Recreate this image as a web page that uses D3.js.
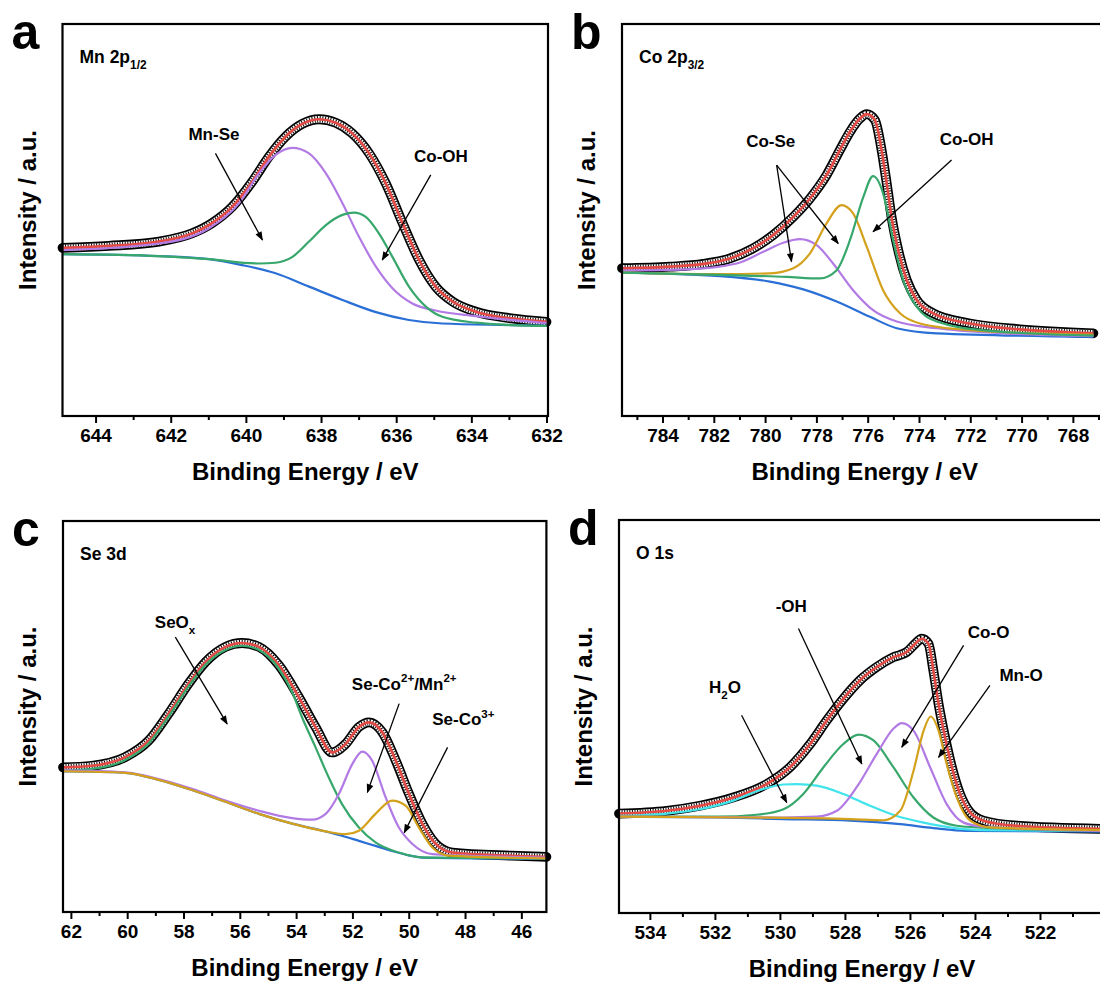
<!DOCTYPE html>
<html>
<head>
<meta charset="utf-8">
<script src="https://cdn.jsdelivr.net/npm/d3@7"></script>
<style>
  body { margin: 0; background: #fff; }
  svg text { font-family: "Liberation Sans", Arial, Helvetica, sans-serif; font-weight: bold; fill: #000; }
</style>
</head>
<body>
<svg id="fig" width="1100" height="988"></svg>
<script>
// values: [binding energy (eV), intensity (a.u., 0-100 of the frame)]

// (a) Mn 2p1/2
const aEnvelope = [[644.88,42.9],[643.65,43.4],[642.31,44.5],[641.43,46.6],[640.9,49.2],[640.36,53.4],[639.83,59.8],[639.39,66.1],[638.94,71.3],[638.5,74.5],[638.05,75.7],[637.61,74.8],[637.17,72.1],[636.72,67.0],[636.28,59.4],[635.83,49.2],[635.39,39.8],[634.95,33.0],[634.5,29.2],[633.88,26.6],[632.94,24.9],[632.0,24.0]];
const aMnSe = [[644.88,42.3],[642.31,44.0],[640.98,47.9],[640.18,54.3],[639.65,61.9],[639.21,66.6],[638.76,68.4],[638.32,67.0],[637.87,61.9],[637.43,54.3],[636.99,45.7],[636.54,38.1],[636.1,32.6],[635.57,28.7],[634.95,26.9],[633.88,25.5],[632.94,24.5],[632.0,23.7]];
const aCoOH = [[644.88,41.3],[642.31,40.8],[640.98,40.0],[639.65,38.9],[639.21,39.1],[638.76,40.6],[638.32,44.5],[637.87,48.7],[637.43,51.3],[637.12,51.9],[636.81,50.8],[636.46,46.6],[636.1,40.6],[635.66,33.0],[635.21,27.9],[634.77,25.3],[633.88,23.8],[632.94,23.2],[632.0,23.0]];
const aBackground = [[644.88,41.3],[642.31,40.8],[640.98,40.0],[640.1,38.5],[639.21,36.4],[638.32,33.0],[637.43,29.6],[636.54,26.5],[635.66,24.5],[634.77,23.6],[632.94,23.2],[632.0,23.0]];
const aTicks = [644, 642, 640, 638, 636, 634, 632];

// (b) Co 2p3/2
const bEnvelope = [[785.58,37.7],[783.71,38.1],[782.41,38.8],[781.37,40.2],[780.46,42.8],[779.68,46.2],[778.9,50.8],[778.25,55.5],[777.6,61.5],[777.08,67.9],[776.69,72.5],[776.3,75.9],[776.04,77.0],[775.72,75.5],[775.46,67.9],[775.26,59.4],[775.07,50.8],[774.81,42.3],[774.48,34.7],[774.09,29.6],[773.45,26.2],[772.02,23.6],[770.07,22.1],[767.2,21.1]];
const bCoSe1 = [[785.58,37.1],[783.06,37.4],[781.11,38.9],[780.07,41.9],[779.29,44.2],[778.64,45.1],[777.99,43.6],[777.35,38.9],[776.57,32.1],[775.79,27.0],[774.87,24.1],[773.31,22.4],[770.72,21.1],[767.2,20.4]];
const bCoSe2 = [[785.58,36.6],[781.76,36.2],[779.81,36.4],[778.9,37.7],[778.25,41.5],[777.6,49.2],[777.02,53.8],[776.57,51.7],[776.04,43.2],[775.4,32.1],[774.74,26.2],[773.96,23.6],[772.02,21.9],[767.2,20.7]];
const bCoOH = [[785.58,36.6],[781.76,36.0],[779.16,35.5],[777.86,35.1],[777.21,37.2],[776.69,44.9],[776.17,55.9],[775.79,61.2],[775.4,56.8],[775.01,44.9],[774.62,34.7],[774.09,27.9],[773.31,24.1],[771.37,21.8],[767.2,20.5]];
const bBackground = [[785.58,36.6],[781.76,35.7],[779.81,34.3],[778.51,32.3],[777.21,29.2],[775.91,25.3],[774.87,22.4],[773.31,21.1],[767.2,20.2]];
const bTicks = [784, 782, 780, 778, 776, 774, 772, 770, 768];

// (c) Se 3d
const cEnvelope = [[62.28,37.0],[61.26,37.4],[60.07,39.6],[59.24,43.8],[58.53,50.7],[57.82,58.4],[57.22,63.9],[56.51,67.8],[55.92,68.8],[55.32,67.8],[54.61,63.1],[53.9,54.9],[53.31,47.3],[52.72,40.8],[52.24,43.0],[51.77,47.3],[51.41,48.5],[50.94,46.0],[50.46,38.7],[49.99,30.2],[49.51,22.5],[49.04,17.4],[48.45,15.2],[46.36,14.4],[45.11,14.1]];
const cSeOx = [[62.28,36.2],[61.26,36.6],[60.07,38.9],[59.24,43.1],[58.53,50.0],[57.82,57.7],[57.22,63.2],[56.51,67.0],[55.92,68.1],[55.32,67.0],[54.61,62.2],[54.14,56.2],[53.79,49.8],[53.31,42.1],[52.84,34.4],[52.37,27.6],[51.77,21.6],[51.18,17.8],[50.35,15.2],[49.4,13.9],[45.11,13.7]];
const cSeCo2 = [[62.28,36.2],[60.07,35.7],[58.88,34.0],[57.7,31.5],[56.51,28.5],[55.32,25.9],[54.14,24.0],[53.43,23.6],[52.95,25.1],[52.48,30.2],[52.0,37.9],[51.65,41.0],[51.3,38.7],[50.82,29.3],[50.35,21.6],[49.87,17.4],[49.16,14.8],[45.11,13.9]];
const cSeCo3 = [[62.28,36.0],[60.07,35.6],[58.88,33.8],[57.7,31.2],[56.51,28.2],[55.32,25.1],[54.14,22.6],[52.95,20.6],[52.24,19.9],[51.77,20.8],[51.18,25.1],[50.59,28.5],[50.11,27.2],[49.64,21.6],[49.16,16.5],[48.57,14.4],[45.11,13.7]];
const cBackground = [[62.28,36.0],[60.07,35.6],[58.88,33.8],[57.7,31.2],[56.51,28.2],[55.32,25.1],[54.14,22.6],[52.95,20.6],[52.37,19.5],[51.77,18.2],[51.18,16.9],[50.59,15.6],[50.0,14.5],[49.4,13.9],[45.11,13.6]];
const cTicks = [62, 60, 58, 56, 54, 52, 50, 48, 46];

// (d) O 1s
const dEnvelope = [[534.95,25.3],[533.48,26.0],[532.46,27.3],[531.43,29.4],[530.41,32.8],[529.69,37.1],[529.07,43.0],[528.56,49.0],[528.05,54.5],[527.54,59.2],[527.02,62.6],[526.51,65.1],[526.1,66.4],[525.84,68.5],[525.64,69.8],[525.43,68.5],[525.28,61.7],[525.12,53.2],[524.92,44.7],[524.71,37.1],[524.46,30.3],[524.15,25.6],[523.74,23.5],[522.71,22.2],[520.1,21.4]];
const dH2O = [[534.95,24.7],[533.48,25.3],[532.46,26.4],[531.43,28.6],[530.61,31.3],[529.89,32.7],[529.48,32.8],[528.87,32.4],[528.05,30.3],[527.23,27.3],[526.41,24.7],[525.58,23.0],[524.77,21.8],[523.74,21.1],[520.1,20.9]];
const dOH = [[534.95,24.5],[531.94,24.5],[530.71,25.0],[529.89,26.4],[529.28,30.3],[528.66,37.1],[528.05,43.0],[527.58,45.4],[527.12,43.9],[526.51,37.1],[525.89,29.4],[525.28,24.3],[524.56,22.2],[523.74,21.7],[520.1,20.9]];
const dCoO = [[534.95,24.5],[529.89,24.3],[528.87,24.5],[528.25,26.0],[527.64,32.0],[527.02,40.5],[526.51,46.9],[526.25,48.3],[525.89,46.4],[525.38,37.1],[524.87,27.7],[524.35,23.0],[523.74,22.0],[520.1,20.9]];
const dMnO = [[534.95,24.5],[531.0,24.3],[527.84,23.9],[526.81,23.6],[526.3,26.0],[525.89,36.2],[525.58,46.4],[525.36,50.0],[525.12,46.4],[524.87,37.9],[524.56,29.4],[524.15,23.5],[523.54,21.8],[520.1,21.1]];
const dBackground = [[534.95,24.5],[531.94,24.3],[529.89,23.9],[527.84,23.5],[526.3,22.6],[525.28,21.6],[524.25,20.9],[520.1,20.7]];
const dTicks = [534, 532, 530, 528, 526, 524, 522];

const colors = {
  fit: '#e64a45', bg: '#2a6fd6', purple: '#b27ae4', green: '#37a76c',
  yellow: '#d4a11c', cyan: '#40e4ea'
};

// panel setup
const panels = [
  { letter: 'a', box: [62.5, 24, 548, 416], dom: [644.88, 631.96], ticks: aTicks,
    title: [['Mn 2p', ''], ['1/2', 'sub']], data: aEnvelope,
    series: [['bg', aBackground], ['purple', aMnSe], ['green', aCoOH]],
    notes: [
      { text: [['Mn-Se', '']], at: [640.85, 70.4], arrows: [[[640.81, 67.0], [639.56, 44.9]]] },
      { text: [['Co-OH', '']], at: [634.81, 64.8], arrows: [[[635.08, 61.5], [636.37, 39.8]]] }
    ] },
  { letter: 'b', box: [622, 24, 1107.5, 416], dom: [785.58, 766.65], ticks: bTicks,
    title: [['Co 2p', ''], ['3/2', 'sub']], data: bEnvelope,
    series: [['bg', bBackground], ['purple', bCoSe1], ['yellow', bCoSe2], ['green', bCoOH]],
    notes: [
      { text: [['Co-Se', '']], at: [779.78, 68.5],
        arrows: [[[779.55, 64.0], [778.97, 39.4]], [[779.55, 64.0], [777.15, 44.0]]] },
      { text: [['Co-OH', '']], at: [772.14, 69.1], arrows: [[[772.73, 65.3], [775.79, 47.0]]] }
    ] },
  { letter: 'c', box: [63, 521, 546.4, 912], dom: [62.28, 45.11], ticks: cTicks,
    title: [['Se 3d', '']], data: cEnvelope,
    series: [['bg', cBackground], ['green', cSeOx], ['purple', cSeCo2], ['yellow', cSeCo3]],
    notes: [
      { text: [['SeO', ''], ['x', 'sub']], at: [58.3, 72.6], arrows: [[[58.29, 70.3], [56.45, 48.1]]] },
      { text: [['Se-Co', ''], ['2+', 'sup'], ['/Mn', ''], ['2+', 'sup']], at: [50.16, 56.9],
        arrows: [[[50.34, 53.3], [51.47, 30.6]]] },
      { text: [['Se-Co', ''], ['3+', 'sup']], at: [48.06, 47.7], arrows: [[[48.62, 42.1], [50.16, 20.3]]] }
    ] },
  { letter: 'd', box: [619, 520, 1105, 913], dom: [534.95, 520.0], ticks: dTicks,
    title: [['O 1s', '']], data: dEnvelope,
    series: [['bg', dBackground], ['cyan', dH2O], ['green', dOH], ['purple', dCoO], ['yellow', dMnO]],
    notes: [
      { text: [['H', ''], ['2', 'sub'], ['O', '']], at: [531.69, 55.9], arrows: [[[531.18, 50.3], [529.79, 28.1]]] },
      { text: [['-OH', '']], at: [529.65, 76.5], arrows: [[[529.43, 72.4], [527.48, 37.9]]] },
      { text: [['Co-O', '']], at: [523.58, 70.0], arrows: [[[524.35, 68.1], [526.25, 42.2]]] },
      { text: [['Mn-O', '']], at: [522.58, 59.0], arrows: [[[523.54, 57.9], [525.12, 39.6]]] }
    ] }
];

const svg = d3.select('#fig');

svg.append('defs').append('marker')
  .attr('id', 'head')
  .attr('viewBox', '0 0 10 10')
  .attr('refX', 9).attr('refY', 5)
  .attr('markerWidth', 10).attr('markerHeight', 9)
  .attr('markerUnits', 'userSpaceOnUse')
  .attr('orient', 'auto')
  .append('path').attr('d', 'M0,1.2L10,5L0,8.8Z').attr('fill', '#000');

// writes text pieces with sub/superscripts as tspans
function richText(el, parts, size) {
  let shift = 0;
  parts.forEach(([t, kind]) => {
    let target = 0, fs = size;
    if (kind === 'sub') { target = size * 0.32; fs = size * 0.68; }
    if (kind === 'sup') { target = -size * 0.42; fs = size * 0.68; }
    el.append('tspan').attr('font-size', fs).attr('dy', target - shift).text(t);
    shift = target;
  });
}

panels.forEach(p => {
  const [x0, y0, x1, y1] = p.box;
  const x = d3.scaleLinear().domain(p.dom).range([x0, x1]);
  const y = d3.scaleLinear().domain([0, 100]).range([y1, y0]);
  const g = svg.append('g');

  const line = d3.line()
    .x(d => x(d[0])).y(d => y(d[1]))
    .curve(d3.curveMonotoneX);

  // measured points: dense open circles give a hatched black band
  g.append('path').attr('d', line(p.data))
    .attr('fill', 'none').attr('stroke', '#000').attr('stroke-width', 9.8).attr('stroke-linecap', 'round');
  g.append('path').attr('d', line(p.data))
    .attr('fill', 'none').attr('stroke', '#fff').attr('stroke-width', 6.4);
  g.append('path').attr('d', line(p.data))
    .attr('fill', 'none').attr('stroke', '#000').attr('stroke-width', 6.4)
    .attr('stroke-dasharray', '1 1.6');
  // fitted envelope
  g.append('path').attr('d', line(p.data))
    .attr('fill', 'none').attr('stroke', colors.fit).attr('stroke-width', 2.6);

  p.series.forEach(([c, vals]) => {
    g.append('path').attr('d', line(vals))
      .attr('fill', 'none').attr('stroke', colors[c]).attr('stroke-width', 2.2);
  });

  // frame
  g.append('rect').attr('x', x0).attr('y', y0).attr('width', x1 - x0).attr('height', y1 - y0)
    .attr('fill', 'none').attr('stroke', '#000').attr('stroke-width', 2.2);

  // x axis: minor then major ticks
  const lo = Math.ceil(Math.min(...p.dom)), hi = Math.floor(Math.max(...p.dom));
  const minor = d3.range(lo, hi + 1).filter(v => !p.ticks.includes(v));
  const minorAx = g.append('g').attr('transform', `translate(0,${y1})`)
    .call(d3.axisBottom(x).tickValues(minor).tickSize(4).tickFormat(''));
  const majorAx = g.append('g').attr('transform', `translate(0,${y1})`)
    .call(d3.axisBottom(x).tickValues(p.ticks).tickSize(7).tickPadding(6).tickFormat(d3.format('d')));
  [minorAx, majorAx].forEach(ax => {
    ax.select('.domain').remove();
    ax.selectAll('line').attr('stroke', '#000').attr('stroke-width', 2);
  });
  majorAx.selectAll('text').attr('font-size', 19).attr('fill', '#000');

  // axis titles
  g.append('text').attr('x', (x0 + x1) / 2).attr('y', y1 + 64)
    .attr('text-anchor', 'middle').attr('font-size', 24).text('Binding Energy / eV');
  g.append('text')
    .attr('transform', `translate(${x0 - 27},${(y0 + y1) / 2 - 10}) rotate(-90)`)
    .attr('text-anchor', 'middle').attr('font-size', 24).text('Intensity / a.u.');

  // panel letter and core level
  g.append('text').attr('x', x0 - 51).attr('y', y0 + 25).attr('font-size', 50).text(p.letter);
  richText(g.append('text').attr('x', x0 + 17).attr('y', y0 + 39).attr('font-size', 17.5), p.title, 17.5);

  // peak annotations
  p.notes.forEach(n => {
    richText(g.append('text').attr('x', x(n.at[0])).attr('y', y(n.at[1])).attr('dy', '0.36em')
      .attr('text-anchor', 'middle').attr('font-size', 17), n.text, 17);
    n.arrows.forEach(([a, b]) => {
      g.append('line')
        .attr('x1', x(a[0])).attr('y1', y(a[1]))
        .attr('x2', x(b[0])).attr('y2', y(b[1]))
        .attr('stroke', '#000').attr('stroke-width', 1.3)
        .attr('marker-end', 'url(#head)');
    });
  });
});
</script>
</body>
</html>
